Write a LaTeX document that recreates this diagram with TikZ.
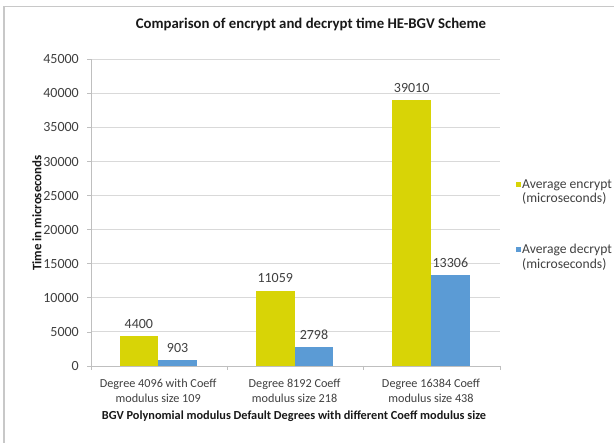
\documentclass[tikz,border=0pt]{standalone}
\usepackage{fontspec}
\setmainfont{Carlito}
\definecolor{encY}{RGB}{216,212,6}
\definecolor{decB}{RGB}{91,155,213}
\definecolor{gridG}{RGB}{217,217,217}
\definecolor{axisG}{RGB}{191,191,191}
\definecolor{frameG}{RGB}{200,200,200}
\definecolor{txtG}{RGB}{64,64,64}
\begin{document}
\begin{tikzpicture}[x=1pt,y=-1pt,
  bar/.style={inner sep=0pt, outer sep=0pt, minimum width=38.7pt, draw=none},
  val/.style={inner sep=0pt, font=\fontsize{14}{16}\selectfont, text=txtG},
  tick/.style={inner sep=0pt, font=\fontsize{14}{16}\selectfont, text=txtG, anchor=east},
  cat/.style={inner sep=0pt, font=\fontsize{12.2}{15}\selectfont, text=txtG, align=center},
  axtitle/.style={inner sep=0pt, font=\bfseries\fontsize{12.3}{14}\selectfont, text=black!90},
  legtxt/.style={inner sep=0pt, font=\fontsize{13.6}{14.5}\selectfont, text=txtG, align=left, anchor=west},
  legsq/.style={inner sep=0pt, minimum size=5pt, draw=none}]
\useasboundingbox (0,0) rectangle (614,443);
\fill[white] (0,0) rectangle (614,443);
% frame
\draw[frameG, line width=1.2pt] (4,443) -- (4,6.7) -- (614,6.7);
% title
\node[inner sep=0pt, font=\bfseries\fontsize{14.8}{16}\selectfont, text=black!90] (title) at (311,24) {Comparison of encrypt and decrypt time HE-BGV Scheme};
% grid and y ticks
\foreach \i/\vv in {0/0,1/5000,2/10000,3/15000,4/20000,5/25000,6/30000,7/35000,8/40000,9/45000} {
  \pgfmathsetmacro{\yy}{366-34.078*\i}
  \ifnum\i>0 \draw[gridG, line width=1pt] (91,\yy) -- (500.2,\yy);\fi
  \draw[axisG, line width=0.8pt] (87,\yy) -- (91,\yy);
  \node[tick] (t\i) at (79,\yy) {\vv};
}
% axes
\draw[axisG, line width=0.8pt] (91,59.3) -- (91,366);
\draw[axisG, line width=0.8pt] (91,366) -- (500.2,366);
\foreach \xx in {91,227.4,363.8,500.2} \draw[axisG, line width=0.8pt] (\xx,366) -- (\xx,370.5);
% bars
\foreach \n/\cx/\e/\ek/\d/\dk/\lab in {1/158.2/4400/4.4/903/0.903/{Degree 4096 with Coeff\\modulus size 109},
                          2/294.6/11059/11.059/2798/2.798/{Degree 8192 Coeff\\modulus size 218},
                          3/431.0/39010/39.01/13306/13.306/{Degree 16384 Coeff\\modulus size 438}} {
  \pgfmathsetmacro{\he}{\ek*6.81556}
  \pgfmathsetmacro{\hd}{\dk*6.81556}
  \node[bar, fill=encY, minimum height=\he pt, anchor=south east] (e\n) at (\cx,366) {};
  \node[bar, fill=decB, minimum height=\hd pt, anchor=south west] (d\n) at (\cx,366) {};
  \node[val, anchor=south] (le\n) at ([yshift=7.5pt]e\n.north) {\e};
  \node[val, anchor=south] (ld\n) at ([yshift=7.5pt]d\n.north) {\d};
  \node[cat] (c\n) at (\cx,390.5) {\lab};
}
% axis titles
\node[axtitle] (xt) at (294,416.5) {BGV Polynomial modulus Default Degrees with different Coeff modulus size};
\node[axtitle, font=\bfseries\fontsize{12.9}{14}\selectfont, rotate=90] (yt) at (37,213) {Time in microseconds};
% legend
\node[legsq, fill=encY] (sq1) at (518,185) {};
\node[legtxt] (lg1) at (522,192) {Average encrypt\\(microseconds)};
\node[legsq, fill=decB] (sq2) at (518,250) {};
\node[legtxt] (lg2) at (522,257) {Average decrypt\\(microseconds)};
\end{tikzpicture}
\end{document}
